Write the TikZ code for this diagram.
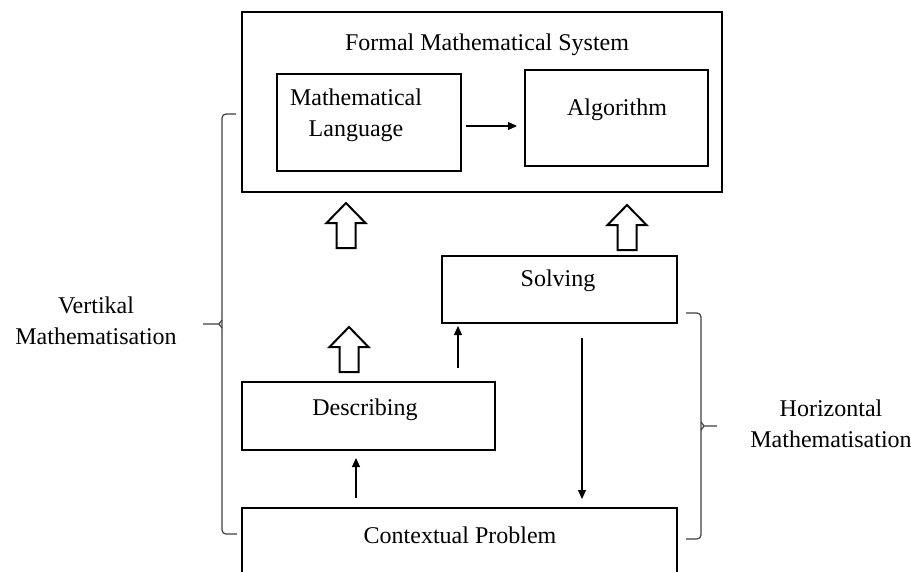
\documentclass[tikz,border=0pt]{standalone}
\usepackage{fontspec}
\setmainfont{Liberation Serif}
\usetikzlibrary{arrows.meta}
\tikzset{
  box/.style={draw=black, line width=1.5pt, rectangle, inner sep=0pt, outer sep=0pt, fill=none},
  txt/.style={inner sep=0pt, align=center, font=\fontsize{24}{31}\selectfont},
  conn/.style={draw=black, line width=1.1pt, -{Triangle[length=9pt,width=8pt]}},
  bracestyle/.style={draw=black!75, line width=1.2pt, rounded corners=4pt},
  hollow/.pic={\draw[line width=2pt, line join=miter, fill=white]
      (0,0) -- (19.5,20) -- (9.5,20) -- (9.5,45) -- (-9.5,45) -- (-9.5,20) -- (-19.5,20) -- cycle;}
}
\begin{document}
\begin{tikzpicture}[x=1pt,y=-1pt]
\useasboundingbox (0,0) rectangle (911,571);
\clip (0,0) rectangle (911,571);
\fill[white] (0,0) rectangle (911,571);

% boxes
\node[box, minimum width=480pt, minimum height=180pt] (formal) at (482,102) {};
\node[box, minimum width=184pt, minimum height=97pt] (lang) at (369,122.5) {};
\node[box, minimum width=183pt, minimum height=96pt] (algo) at (616.5,118) {};
\node[box, line width=1.3pt, minimum width=235pt, minimum height=67pt] (solving) at (559.5,289.5) {};
\node[box, minimum width=253pt, minimum height=68pt] (describing) at (368.5,416) {};
\node[box, line width=1.2pt, minimum width=435pt, minimum height=80pt] (contextual) at (459.5,548) {};

% texts
\node[txt] (tformal) at (487,45) {Formal Mathematical System};
\node[txt] (tlang) at (356,115) {Mathematical\\Language};
\node[txt] (talgo) at (617,110) {Algorithm};
\node[txt] (tsolving) at (558,281) {Solving};
\node[txt] (tdescribing) at (365,410) {Describing};
\node[txt] (tcontext) at (460,535) {Contextual Problem};
\node[txt] (tvert) at (96,321) {Vertikal\\Mathematisation};
\node[txt] (thor) at (831,424) {Horizontal\\Mathematisation};

% thin arrows
\draw[conn] ([xshift=5pt,yshift=-3.5pt]lang.east) -- ([xshift=-8pt,yshift=-8pt]algo.west);
\draw[conn] ([xshift=-103.5pt,yshift=10pt]contextual.north) -- ([xshift=-12.5pt,yshift=-8pt]describing.south);
\draw[conn] ([xshift=-37pt,yshift=14pt]describing.north east) -- ([xshift=16pt,yshift=-3pt]solving.south west);
\draw[conn] ([xshift=22.5pt,yshift=-15pt]solving.south) -- ([xshift=122.5pt,yshift=9pt]contextual.north);

% hollow arrows
\pic (h1) at (346,203) {hollow};
\pic (h2) at (627,205) {hollow};
\pic (h3) at (349,327) {hollow};

% braces
\draw[bracestyle] (236,114) -- (222,114) -- (222,324) -- (222,534) -- (237,534);
\draw[draw=black!75, line width=1.2pt] (203,324) -- (219,324) -- (222,320);
\draw[draw=black!75, line width=1.2pt] (219,324) -- (222,328);
\draw[bracestyle] (686,313) -- (701,313) -- (701,426) -- (701,539) -- (686,539);
\draw[draw=black!75, line width=1.2pt] (717,426) -- (704,426) -- (701,422);
\draw[draw=black!75, line width=1.2pt] (704,426) -- (701,430);
\end{tikzpicture}
\end{document}
